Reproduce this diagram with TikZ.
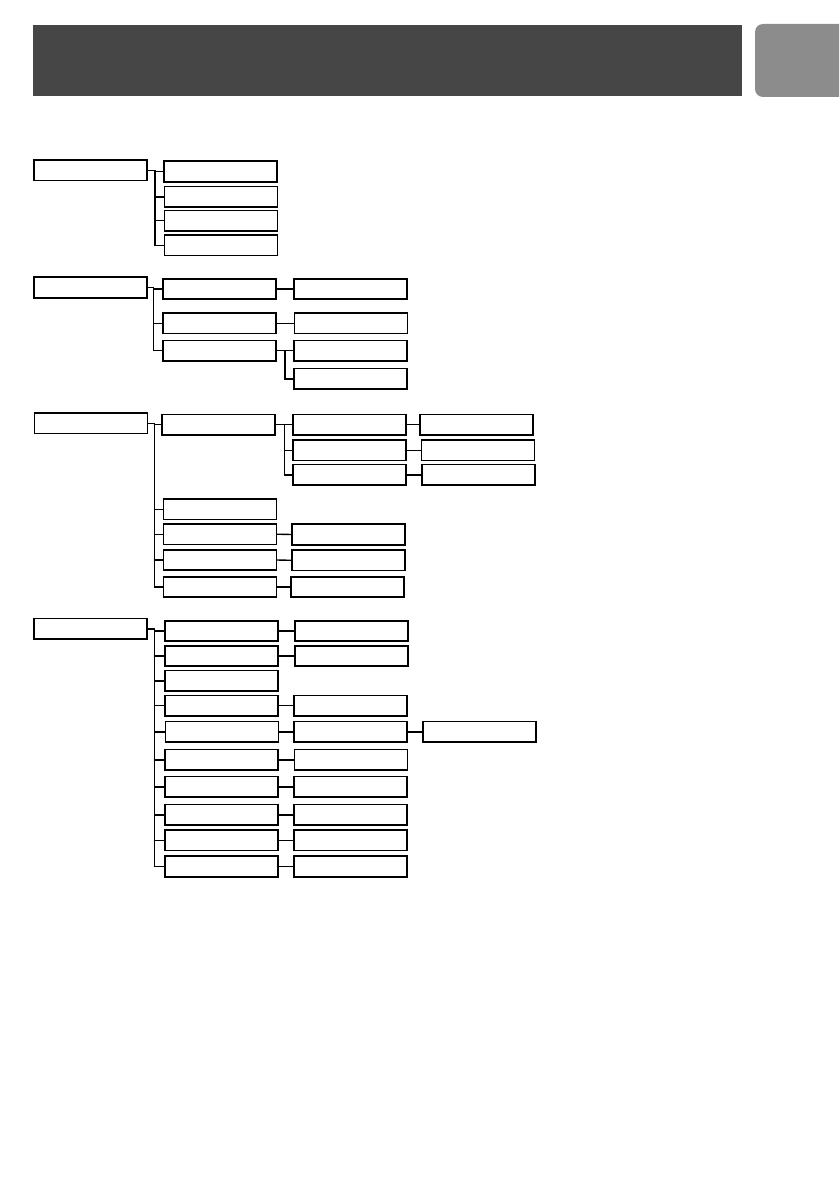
\documentclass[tikz,border=0pt]{standalone}
\usepackage{tikz}
\definecolor{headgray}{HTML}{464646}
\definecolor{tabgray}{HTML}{8C8C8C}
\tikzset{
  bx/.style={draw=black, line width=1.6pt, fill=white, rectangle, inner sep=0pt,
             minimum width=113pt, minimum height=20.5pt},
  link/.style={draw=black, line width=1.4pt},
}
\begin{document}
\begin{tikzpicture}[x=1pt,y=-1pt]
\useasboundingbox (0,0) rectangle (839,1193);
% header
\fill[headgray] (33,25) rectangle (742,96);
\begin{scope}
\clip (0,0) rectangle (839,1193);
\fill[tabgray, rounded corners=8pt] (755,24) rectangle (860,97);
\end{scope}

% ---------- group 1 ----------
\node[bx] (r1) at (90.5,170.3) {};
\node[bx] (g1a) at (220.5,171.5) {};
\node[bx] (g1b) at (221,196.8) {};
\node[bx] (g1c) at (221,220.6) {};
\node[bx] (g1d) at (221,245.3) {};
\coordinate (b1) at (155,0);
\foreach \c in {g1a,g1b,g1c,g1d}{\draw[link] (r1.east) -- (r1.east -| b1) |- (\c.west);}

% ---------- group 2 ----------
\node[bx] (r2) at (90.5,287.5) {};
\node[bx] (g2a) at (219.7,289) {};
\node[bx] (g2b) at (219.7,323.3) {};
\node[bx] (g2c) at (219.7,350.7) {};
\node[bx] (g2a1) at (350.5,289) {};
\node[bx] (g2b1) at (351,323.3) {};
\node[bx] (g2c1) at (350.5,350.7) {};
\node[bx] (g2c2) at (350.5,378.8) {};
\coordinate (b2) at (153.5,0);
\coordinate (s2) at (285,0);
\foreach \c in {g2a,g2b,g2c}{\draw[link] (r2.east) -- (r2.east -| b2) |- (\c.west);}
\draw[link] (g2a.east) -- (g2a1.west);
\draw[link] (g2b.east) -- (g2b1.west);
\draw[link] (g2c.east) -- (g2c1.west);
\draw[link] (g2c.east -| s2) |- (g2c2.west);

% ---------- group 3 ----------
\node[bx] (r3) at (91,423.3) {};
\node[bx] (g3a) at (218.3,424.7) {};
\node[bx] (g3a1) at (349.5,424.7) {};
\node[bx] (g3a2) at (349.5,450.3) {};
\node[bx] (g3a3) at (349.5,474.8) {};
\node[bx] (g3a1x) at (476.7,424.7) {};
\node[bx] (g3a2x) at (478,450.3) {};
\node[bx] (g3a3x) at (478.3,474.8) {};
\node[bx] (g3b) at (219.8,509.2) {};
\node[bx] (g3c) at (219.8,534.2) {};
\node[bx] (g3d) at (219.8,560) {};
\node[bx] (g3e) at (219.8,587) {};
\node[bx] (g3c1) at (348.5,534.5) {};
\node[bx] (g3d1) at (348.5,560.3) {};
\node[bx] (g3e1) at (347.3,587) {};
\coordinate (b3) at (154.5,0);
\coordinate (s3) at (284.5,0);
\foreach \c in {g3a,g3b,g3c,g3d,g3e}{\draw[link] (r3.east) -- (r3.east -| b3) |- (\c.west);}
\draw[link] (g3a.east) -- (g3a1.west);
\foreach \c in {g3a2,g3a3}{\draw[link] (g3a.east -| s3) |- (\c.west);}
\draw[link] (g3a1.east) -- (g3a1x.west);
\draw[link] (g3a2.east) -- (g3a2x.west);
\draw[link] (g3a3.east) -- (g3a3x.west);
\draw[link] (g3c.east) -- (g3c1.west);
\draw[link] (g3d.east) -- (g3d1.west);
\draw[link] (g3e.east) -- (g3e1.west);

% ---------- group 4 ----------
\node[bx] (r4) at (90.5,628.8) {};
\node[bx] (g4a) at (221.3,631) {};
\node[bx] (g4b) at (221.3,656) {};
\node[bx] (g4c) at (221.3,680.8) {};
\node[bx] (g4d) at (221.3,705.7) {};
\node[bx] (g4e) at (222,731.8) {};
\node[bx] (g4f) at (221.3,759.8) {};
\node[bx] (g4g) at (221.3,786.8) {};
\node[bx] (g4h) at (221.3,814.8) {};
\node[bx] (g4i) at (221.3,840.3) {};
\node[bx] (g4j) at (221.3,866.5) {};
\node[bx] (g4a1) at (351.5,631) {};
\node[bx] (g4b1) at (351.5,656) {};
\node[bx] (g4d1) at (350.3,705.7) {};
\node[bx] (g4e1) at (350.3,731.8) {};
\node[bx] (g4e2) at (479.7,731.8) {};
\node[bx] (g4f1) at (350.8,759.8) {};
\node[bx] (g4g1) at (350.3,786.8) {};
\node[bx] (g4h1) at (350.3,814.8) {};
\node[bx] (g4i1) at (350.3,840.3) {};
\node[bx] (g4j1) at (350.3,866.5) {};
\coordinate (b4) at (154.5,0);
\foreach \c in {g4a,g4b,g4c,g4d,g4e,g4f,g4g,g4h,g4i,g4j}{\draw[link] (r4.east) -- (r4.east -| b4) |- (\c.west);}
\foreach \p/\q in {g4a/g4a1,g4b/g4b1,g4d/g4d1,g4e/g4e1,g4f/g4f1,g4g/g4g1,g4h/g4h1,g4i/g4i1,g4j/g4j1,g4e1/g4e2}{\draw[link] (\p.east) -- (\q.west);}
\end{tikzpicture}
\end{document}
